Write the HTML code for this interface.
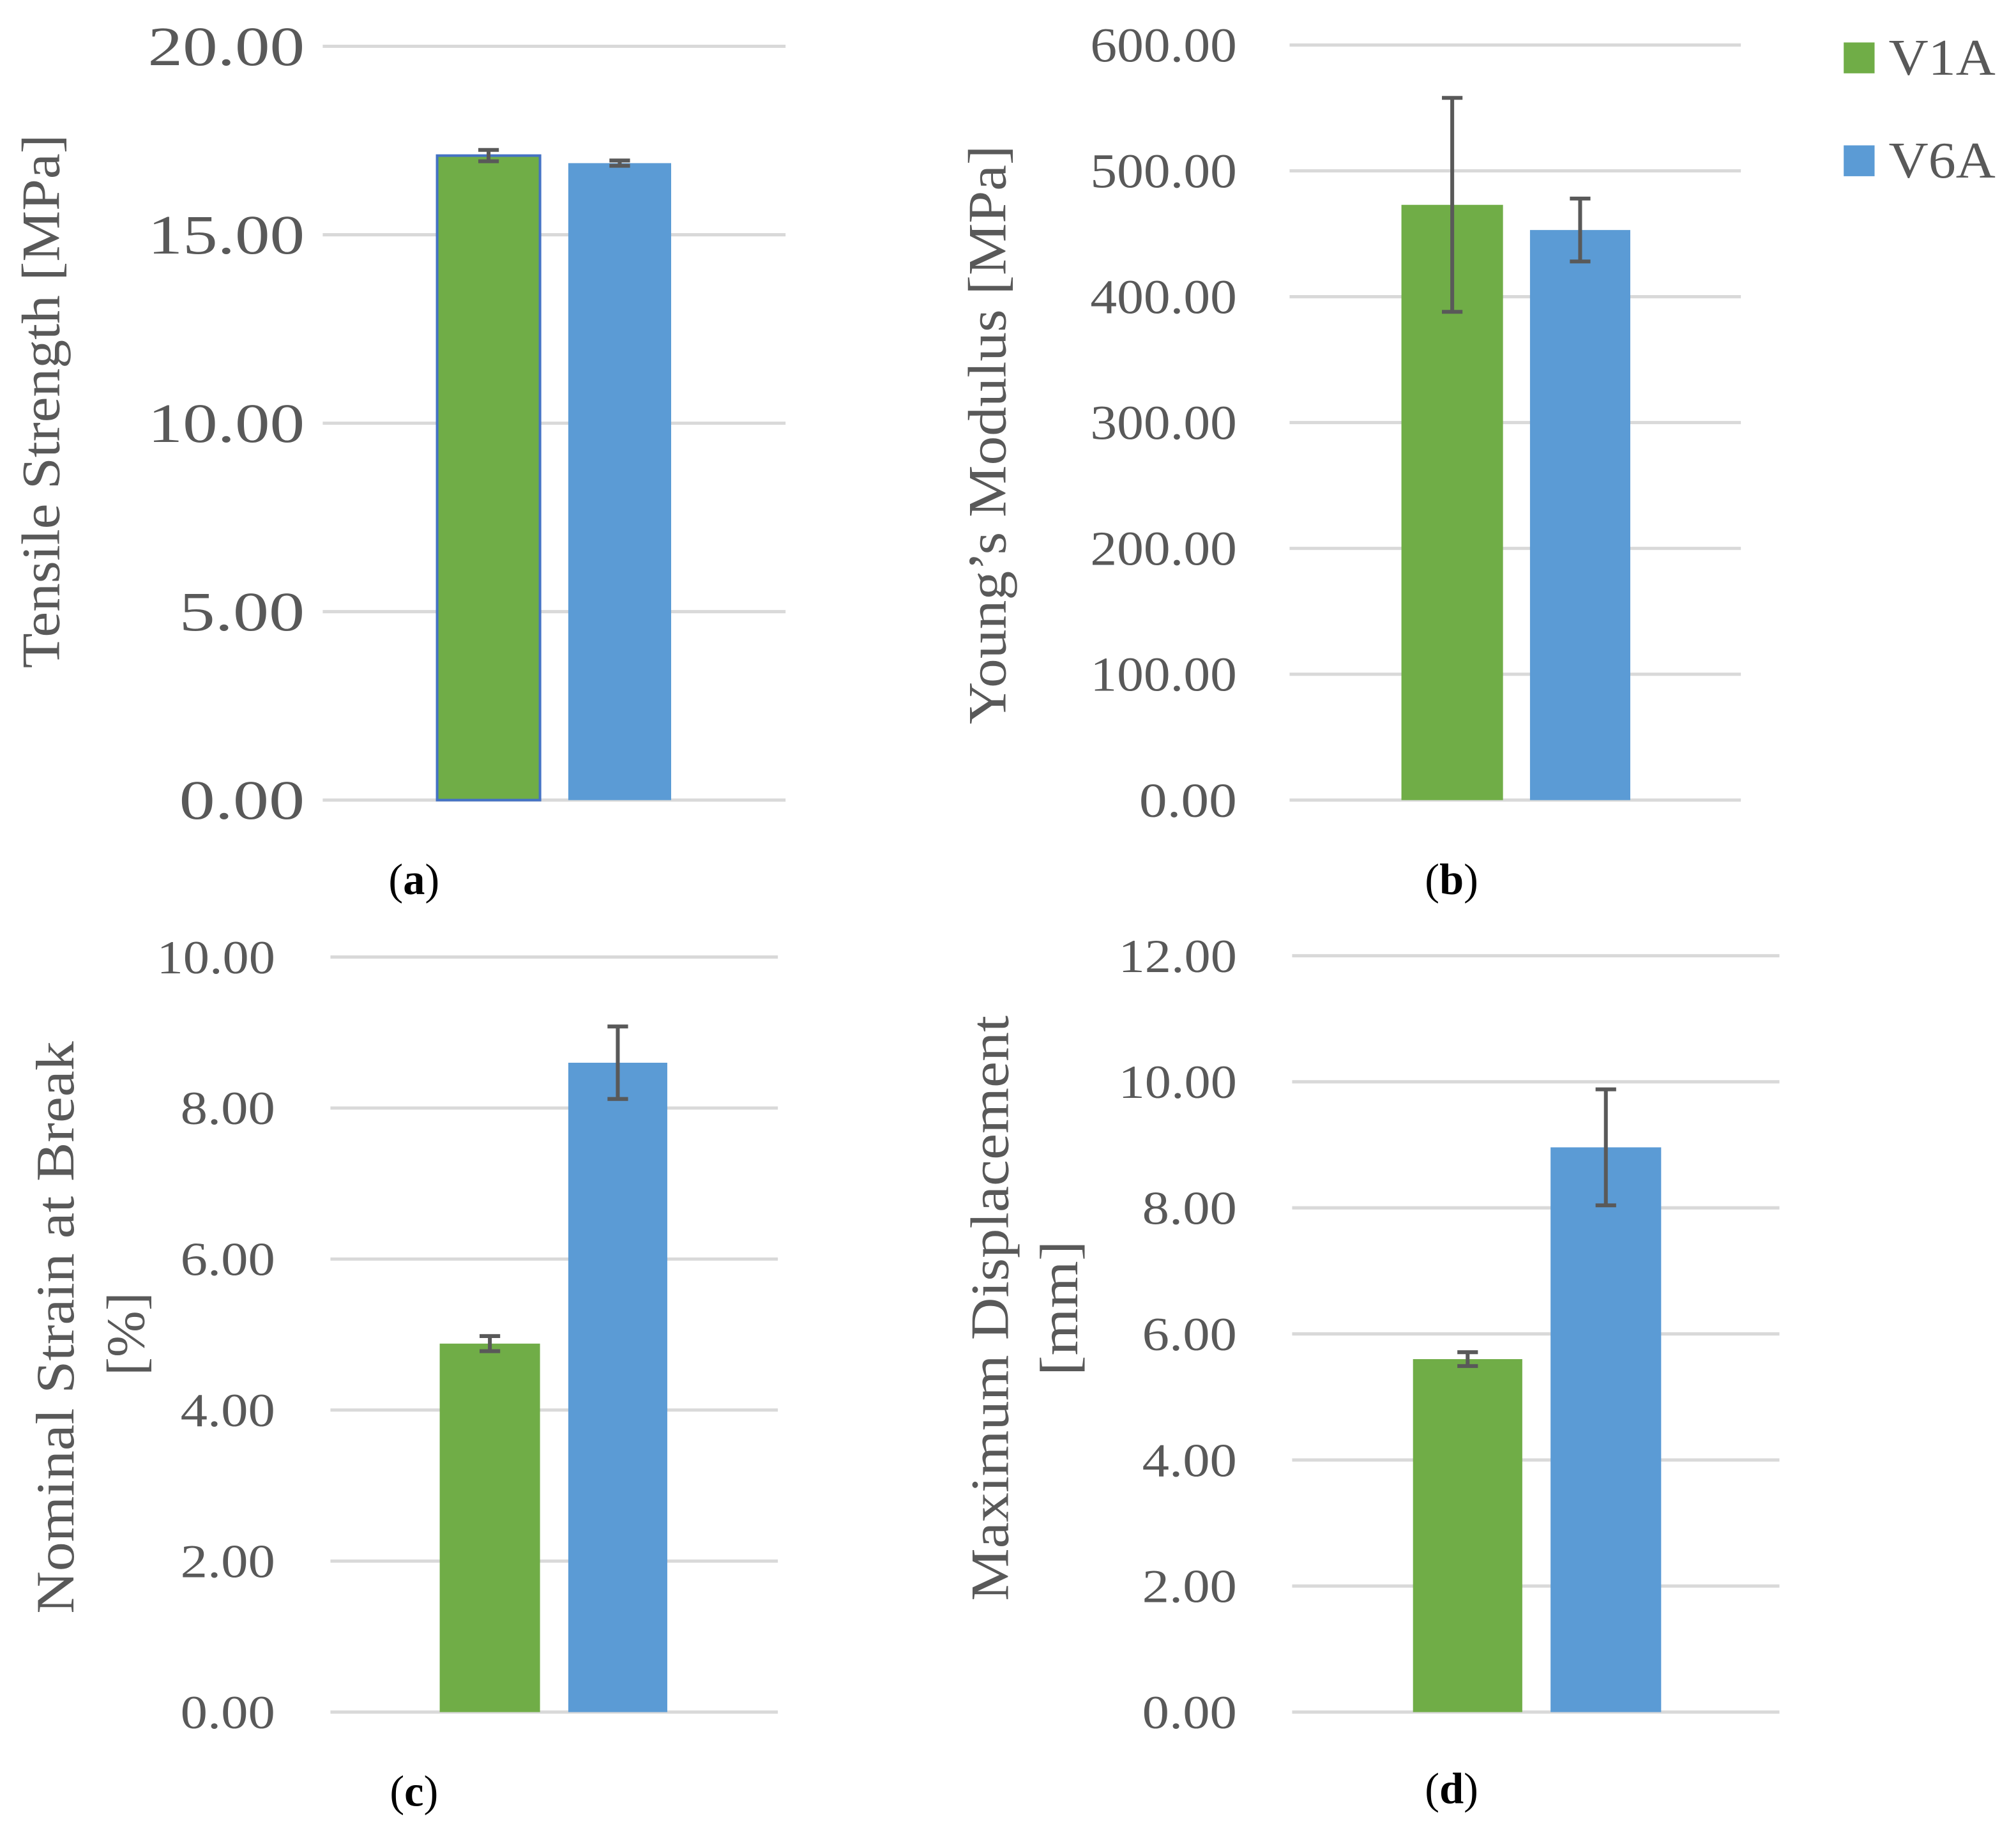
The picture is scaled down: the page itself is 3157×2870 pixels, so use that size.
<!DOCTYPE html>
<html><head><meta charset="utf-8"><style>
html,body{margin:0;padding:0;background:#fff}
svg{display:block}
text{font-family:"Liberation Serif",serif;fill:#595959}
</style></head><body>
<svg id="fig" width="3157" height="2870" viewBox="0 0 1568 1425" preserveAspectRatio="none" xmlns="http://www.w3.org/2000/svg">
<g>
<rect x="1434" y="33" width="24" height="24" fill="#70AD47"/>
<text x="1469" y="58" font-size="40" textLength="83" lengthAdjust="spacingAndGlyphs">V1A</text>
<rect x="1434" y="113" width="24" height="24" fill="#5B9BD5"/>
<text x="1469" y="138" font-size="40" textLength="83" lengthAdjust="spacingAndGlyphs">V6A</text>
</g>
</svg>
<script>
const panelIds = ['a','b','c','d'];
const seriesNames = ['V1A','V6A'];
const tensileValues = [17.1, 16.9];
const tensileErrors = [0.15, 0.07];
const modulusValues = [473, 453];
const modulusErrors = [85, 25];
const strainValues = [4.88, 8.6];
const strainErrors = [0.1, 0.48];
const dispValues = [5.6, 8.96];
const dispErrors = [0.11, 0.92];
const tensileTicks = [0, 5, 10, 15, 20];
const modulusTicks = [0, 100, 200, 300, 400, 500, 600];
const strainTicks = [0, 2, 4, 6, 8, 10];
const dispTicks = [0, 2, 4, 6, 8, 10, 12];

const NS = 'http://www.w3.org/2000/svg';
const svg = document.getElementById('fig');
function mk(tag, attrs, parent) {
  const e = document.createElementNS(NS, tag);
  for (const k in attrs) e.setAttribute(k, attrs[k]);
  parent.appendChild(e);
  return e;
}
const colors = ['#70AD47', '#5B9BD5'];
const panels = [
  {id:'a', vals:tensileValues, errs:tensileErrors, ticks:tensileTicks, x0:251, x1:611, yTop:36, yBot:622, bars:[[340,420],[442,522]], labRight:237, fs:43, cw:24.4, title:['Tensile Strength [MPa]'], tlen:[415], titleX:[46], titleY:[312], capX:322, capY:695, outline:true},
  {id:'b', vals:modulusValues, errs:modulusErrors, ticks:modulusTicks, x0:1003, x1:1354, yTop:35, yBot:622, bars:[[1090,1169],[1190,1268]], labRight:962, fs:38, cw:19, title:['Young\u2019s Modulus [MPa]'], tlen:[450], titleX:[782], titleY:[338], capX:1129, capY:695},
  {id:'c', vals:strainValues, errs:strainErrors, ticks:strainTicks, x0:257, x1:605, yTop:744, yBot:1331, bars:[[342,420],[442,519]], labRight:214, fs:37, cw:18.4, title:['Nominal Strain at Break','[%]'], tlen:[445,65], titleX:[57,112], titleY:[1032,1037], capX:322, capY:1404},
  {id:'d', vals:dispValues, errs:dispErrors, ticks:dispTicks, x0:1005, x1:1384, yTop:743, yBot:1331, bars:[[1099,1184],[1206,1292]], labRight:962, fs:37, cw:18.4, title:['Maximum Displacement','[mm]'], tlen:[455,105], titleX:[784,838], titleY:[1017,1017], capX:1129, capY:1402}
];
panels.forEach(p => {
  const g = mk('g', {}, svg);
  
  
  const maxT = p.ticks[p.ticks.length - 1];
  const y = v => p.yBot - (v / maxT) * (p.yBot - p.yTop);
  p.ticks.forEach(t => {
    const l = mk('line', {x1:p.x0, x2:p.x1, y1:y(t), y2:y(t), stroke:'#D9D9D9', 'stroke-width':2.5}, g);
    
    
    const s = t.toFixed(2);
    const tx = mk('text', {x:p.labRight, y:y(t) + p.fs * 0.34, 'font-size':p.fs, 'text-anchor':'end', textLength:(p.cw * s.length), lengthAdjust:'spacingAndGlyphs'}, g);
    
    
    tx.textContent = s;
  });
  p.vals.forEach((v, i) => {
    const [bx0, bx1] = p.bars[i];
    const r = mk('rect', {x:bx0, y:y(v), width:bx1 - bx0, height:p.yBot - y(v), fill:colors[i]}, g);
    if (p.outline && i === 0) { r.setAttribute('stroke', '#4472C4'); r.setAttribute('stroke-width', 2); }
    
    
    const cx = (bx0 + bx1) / 2, e = p.errs[i];
    const eg = mk('g', {stroke:'#595959', 'stroke-width':3}, g);
    
    
    mk('line', {x1:cx, x2:cx, y1:y(v + e), y2:y(v - e)}, eg);
    mk('line', {x1:cx - 8, x2:cx + 8, y1:y(v + e), y2:y(v + e)}, eg);
    mk('line', {x1:cx - 8, x2:cx + 8, y1:y(v - e), y2:y(v - e)}, eg);
  });
  p.title.forEach((t, k) => {
    const tt = mk('text', {x:p.titleX[k], y:p.titleY[k], 'font-size':42, 'text-anchor':'middle', textLength:p.tlen[k], lengthAdjust:'spacingAndGlyphs', transform:'rotate(-90 ' + p.titleX[k] + ' ' + p.titleY[k] + ')'}, g);
    
    
    tt.textContent = t;
  });
  const cap = mk('text', {x:p.capX, y:p.capY, 'font-size':34, 'text-anchor':'middle', style:'fill:#000'}, g);
  
  
  cap.innerHTML = '(<tspan font-weight="bold">' + p.id + '</tspan>)';
});
</script>
</body></html>
